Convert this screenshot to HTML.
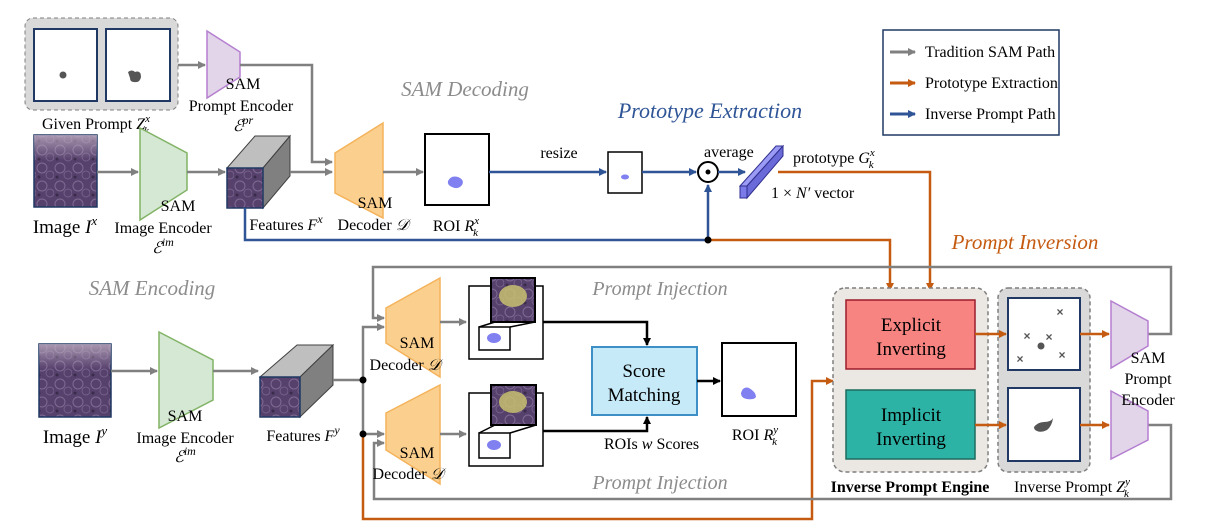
<!DOCTYPE html>
<html><head><meta charset="utf-8"><style>
html,body{margin:0;padding:0;background:#fff;}
svg{display:block;font-family:"Liberation Serif",serif;}
</style></head><body>
<svg width="1222" height="531" viewBox="0 0 1222 531" xmlns="http://www.w3.org/2000/svg">
<defs>
<marker id="ag" markerWidth="8" markerHeight="8" refX="7" refY="4" orient="auto" markerUnits="userSpaceOnUse"><path d="M0,0 L8,4 L0,8z" fill="#808080"/></marker>
<marker id="ab" markerWidth="8" markerHeight="8" refX="7" refY="4" orient="auto" markerUnits="userSpaceOnUse"><path d="M0,0 L8,4 L0,8z" fill="#2f5597"/></marker>
<marker id="ao" markerWidth="8" markerHeight="8" refX="7" refY="4" orient="auto" markerUnits="userSpaceOnUse"><path d="M0,0 L8,4 L0,8z" fill="#c55a11"/></marker>
<marker id="ak" markerWidth="8" markerHeight="8" refX="7" refY="4" orient="auto" markerUnits="userSpaceOnUse"><path d="M0,0 L8,4 L0,8z" fill="#000"/></marker>
<pattern id="tis" width="18" height="18" patternUnits="userSpaceOnUse">
<rect width="18" height="18" fill="#56406c"/>
<circle cx="6" cy="6" r="5" fill="none" stroke="#7e6a92" stroke-width="1"/>
<circle cx="14" cy="13" r="4" fill="none" stroke="#746089" stroke-width="1"/>
<circle cx="3" cy="15" r="1.5" fill="#3a2b4a"/>
</pattern>
<linearGradient id="topfade" x1="0" y1="0" x2="0" y2="1"><stop offset="0" stop-color="#c4b4c8" stop-opacity="0.75"/><stop offset="0.35" stop-color="#c4b4c8" stop-opacity="0"/></linearGradient>
</defs>
<g font-size="16" fill="#000">

<rect x="25" y="18" width="153" height="92" rx="8" fill="#d9d9d9" stroke="#7f7f7f" stroke-dasharray="4,3"/>
<rect x="34" y="29" width="63" height="72" fill="#fff" stroke="#203864" stroke-width="2"/>
<rect x="106" y="29" width="64" height="72" fill="#fff" stroke="#203864" stroke-width="2"/>
<circle cx="63" cy="75" r="3.5" fill="#555"/>
<path d="M128,72 q4,-3 7,0 q6,-2 6,5 q-1,6 -7,5 q-4,0 -4,-4 q-1,-3 -2,-6z" fill="#555"/>
<text x="96" y="129" text-anchor="middle">Given Prompt <tspan font-style="italic">Z</tspan><tspan font-size="11" dy="-7" font-style="italic">x</tspan><tspan font-size="11" dx="-6" dy="12" font-style="italic">k</tspan></text>
<line x1="178" y1="65" x2="205" y2="65" stroke="#808080" stroke-width="2.5" marker-end="url(#ag)"/>
<path d="M207,31 L240,52 L240,77 L207,98z" fill="#e2d5ea" stroke="#b57fd0" stroke-width="1.5"/>
<text x="243" y="89" text-anchor="middle">SAM</text>
<text x="241" y="111" text-anchor="middle">Prompt Encoder</text>
<text x="243" y="131" text-anchor="middle" font-style="italic">ℰ<tspan font-size="12" dy="-7">pr</tspan></text>
<polyline points="240,65 312,65 312,162 332,162" fill="none" stroke="#808080" stroke-width="2.5" marker-end="url(#ag)"/>

<text x="465" y="96" text-anchor="middle" font-size="21" font-style="italic" fill="#8c8c8c">SAM Decoding</text>
<text x="710" y="118" text-anchor="middle" font-size="22" font-style="italic" fill="#2f5597">Prototype Extraction</text>

<rect x="34" y="135" width="63" height="72" fill="url(#tis)" stroke="#203864" stroke-width="1.5"/>
<rect x="34" y="135" width="63" height="72" fill="url(#topfade)"/>
<text x="65" y="233" text-anchor="middle" font-size="19">Image <tspan font-style="italic">I</tspan><tspan font-size="13" dy="-8" font-style="italic">x</tspan></text>
<line x1="97" y1="172" x2="138" y2="172" stroke="#808080" stroke-width="2.5" marker-end="url(#ag)"/>
<path d="M140,128 L187,153 L187,190 L140,220z" fill="#d5e8d4" stroke="#82b366" stroke-width="1.5"/>
<text x="178" y="211" text-anchor="middle">SAM</text>
<text x="163" y="233" text-anchor="middle">Image Encoder</text>
<text x="163" y="253" text-anchor="middle" font-style="italic">ℰ<tspan font-size="12" dy="-7">im</tspan></text>
<line x1="187" y1="172" x2="225" y2="172" stroke="#808080" stroke-width="2.5" marker-end="url(#ag)"/>
<path d="M227,168 L255,136 L290,136 L263,168z" fill="#bfbfbf" stroke="#404040"/>
<path d="M263,168 L290,136 L290,176 L263,208z" fill="#808080" stroke="#404040"/>
<rect x="227" y="168" width="36" height="40" fill="url(#tis)" stroke="#203864" stroke-width="1.5"/>
<text x="286" y="230" text-anchor="middle">Features <tspan font-style="italic">F</tspan><tspan font-size="12" dy="-7" font-style="italic">x</tspan></text>
<line x1="290" y1="172" x2="332" y2="172" stroke="#808080" stroke-width="2.5" marker-end="url(#ag)"/>
<path d="M335,153 L383,123 L383,218 L335,193z" fill="#fbd08f" stroke="#f4b35b" stroke-width="1.5"/>
<text x="375" y="208" text-anchor="middle">SAM</text>
<text x="373" y="230" text-anchor="middle">Decoder <tspan font-style="italic">𝒟</tspan></text>
<line x1="383" y1="172" x2="423" y2="172" stroke="#808080" stroke-width="2.5" marker-end="url(#ag)"/>
<rect x="425" y="134" width="64" height="71" fill="#fff" stroke="#000" stroke-width="2"/>
<path d="M448,181 q3,-6 10,-4 q7,3 4,8 q-4,5 -10,2 q-5,-2 -4,-6z" fill="#8080f0"/>
<text x="456" y="231" text-anchor="middle">ROI <tspan font-style="italic">R</tspan><tspan font-size="11" dy="-7" font-style="italic">x</tspan><tspan font-size="11" dx="-6" dy="12" font-style="italic">k</tspan></text>
<line x1="489" y1="172" x2="606" y2="172" stroke="#2f5597" stroke-width="2.5" marker-end="url(#ab)"/>
<text x="559" y="158" text-anchor="middle">resize</text>
<rect x="608" y="152" width="34" height="41" fill="#fff" stroke="#000" stroke-width="1.5"/>
<ellipse cx="625" cy="177" rx="4" ry="2.5" fill="#8080f0"/>
<line x1="642" y1="172" x2="696" y2="172" stroke="#2f5597" stroke-width="2.5" marker-end="url(#ab)"/>
<circle cx="708" cy="172" r="10" fill="#fff" stroke="#000" stroke-width="2"/>
<circle cx="708" cy="172" r="2.5" fill="#000"/>
<text x="704" y="157" fill="#000">average</text>
<line x1="718" y1="172" x2="745" y2="172" stroke="#2f5597" stroke-width="2.5" marker-end="url(#ab)"/>
<path d="M740,186 L776,146 L783,146 L747,186z" fill="#9b9bf5" stroke="#2f2f8f"/>
<path d="M747,186 L783,146 L783,156 L747,198z" fill="#6a6ad8" stroke="#2f2f8f"/>
<rect x="740" y="186" width="7" height="12" fill="#7a7ae8" stroke="#2f2f8f"/>
<text x="793" y="163">prototype <tspan font-style="italic">G</tspan><tspan font-size="11" dy="-7" font-style="italic">x</tspan><tspan font-size="11" dx="-6" dy="12" font-style="italic">k</tspan></text>
<text x="771" y="198">1 × <tspan font-style="italic">N′</tspan> vector</text>
<polyline points="778,172 930,172 930,290" fill="none" stroke="#c55a11" stroke-width="2.5" marker-end="url(#ao)"/>
<polyline points="245,208 245,240 708,240 708,185" fill="none" stroke="#2f5597" stroke-width="2.5" marker-end="url(#ab)"/>
<polyline points="708,240 890,240 890,290" fill="none" stroke="#c55a11" stroke-width="2.5" marker-end="url(#ao)"/>
<circle cx="708" cy="240" r="3.5" fill="#000"/>
<text x="1025" y="249" text-anchor="middle" font-size="21" font-style="italic" fill="#c55a11">Prompt Inversion</text>

<rect x="883" y="30" width="176" height="105" fill="#fff" stroke="#203864" stroke-width="1.5"/>
<line x1="890" y1="52" x2="915" y2="52" stroke="#808080" stroke-width="3" marker-end="url(#ag)"/>
<text x="925" y="57">Tradition SAM Path</text>
<line x1="890" y1="83" x2="915" y2="83" stroke="#c55a11" stroke-width="3" marker-end="url(#ao)"/>
<text x="925" y="88">Prototype Extraction</text>
<line x1="890" y1="114" x2="915" y2="114" stroke="#2f5597" stroke-width="3" marker-end="url(#ab)"/>
<text x="925" y="119">Inverse Prompt Path</text>

<text x="152" y="295" text-anchor="middle" font-size="21" font-style="italic" fill="#8c8c8c">SAM Encoding</text>
<rect x="39" y="344" width="72" height="73" fill="url(#tis)" stroke="#203864" stroke-width="1.5"/>
<rect x="39" y="344" width="72" height="73" fill="url(#topfade)"/>
<text x="75" y="443" text-anchor="middle" font-size="19">Image <tspan font-style="italic">I</tspan><tspan font-size="13" dy="-8" font-style="italic">y</tspan></text>
<line x1="111" y1="371" x2="157" y2="371" stroke="#808080" stroke-width="2.5" marker-end="url(#ag)"/>
<path d="M159,332 L213,360 L213,400 L159,428z" fill="#d5e8d4" stroke="#82b366" stroke-width="1.5"/>
<text x="185" y="421" text-anchor="middle">SAM</text>
<text x="185" y="443" text-anchor="middle">Image Encoder</text>
<text x="185" y="462" text-anchor="middle" font-style="italic">ℰ<tspan font-size="12" dy="-7">im</tspan></text>
<line x1="213" y1="371" x2="258" y2="371" stroke="#808080" stroke-width="2.5" marker-end="url(#ag)"/>
<path d="M260,377 L297,345 L333,345 L300,377z" fill="#bfbfbf" stroke="#404040"/>
<path d="M300,377 L333,345 L333,385 L300,417z" fill="#808080" stroke="#404040"/>
<rect x="260" y="377" width="40" height="40" fill="url(#tis)" stroke="#203864" stroke-width="1.5"/>
<text x="303" y="441" text-anchor="middle">Features <tspan font-style="italic">F</tspan><tspan font-size="12" dy="-7" font-style="italic">y</tspan></text>
<line x1="333" y1="380" x2="363" y2="380" stroke="#808080" stroke-width="2.5"/>
<polyline points="363,434 363,327 384,327" fill="none" stroke="#808080" stroke-width="2.5" marker-end="url(#ag)"/>
<line x1="363" y1="434" x2="384" y2="434" stroke="#808080" stroke-width="2.5" marker-end="url(#ag)"/>
<polyline points="363,434 363,519 812,519 812,381 833,381" fill="none" stroke="#c55a11" stroke-width="2.5" marker-end="url(#ao)"/>
<circle cx="363" cy="380" r="3.5" fill="#000"/>
<circle cx="363" cy="434" r="3.5" fill="#000"/>
<polyline points="1148,334 1171,334 1171,267 373,267 373,318 384,318" fill="none" stroke="#808080" stroke-width="2.5" marker-end="url(#ag)"/>
<polyline points="1148,425 1171,425 1171,499 374,499 374,443 384,443" fill="none" stroke="#808080" stroke-width="2.5" marker-end="url(#ag)"/>
<path d="M386,308 L440,278 L440,377 L386,343z" fill="#fbd08f" stroke="#f4b35b" stroke-width="1.5"/>
<text x="417" y="348" text-anchor="middle">SAM</text>
<text x="405" y="370" text-anchor="middle">Decoder <tspan font-style="italic">𝒟</tspan></text>
<path d="M386,413 L440,385 L440,484 L386,450z" fill="#fbd08f" stroke="#f4b35b" stroke-width="1.5"/>
<text x="417" y="458" text-anchor="middle">SAM</text>
<text x="408" y="479" text-anchor="middle">Decoder <tspan font-style="italic">𝒟</tspan></text>
<line x1="440" y1="322" x2="466" y2="322" stroke="#808080" stroke-width="2.5" marker-end="url(#ag)"/>
<line x1="440" y1="434" x2="466" y2="434" stroke="#808080" stroke-width="2.5" marker-end="url(#ag)"/>
<g stroke="#000" stroke-width="1.5">
<rect x="469" y="286" width="74" height="73" fill="#fff"/>
<rect x="491" y="278" width="44" height="44" fill="url(#tis)" stroke-width="2"/>
<ellipse cx="513" cy="296" rx="14" ry="11" fill="#c8c070" opacity="0.85" stroke="none"/>
<path d="M495,322 L479,327 M535,322 L510,327" />
<rect x="479" y="327" width="31" height="23" fill="#fff"/>
<rect x="469" y="393" width="74" height="73" fill="#fff"/>
<rect x="491" y="385" width="45" height="40" fill="url(#tis)" stroke-width="2"/>
<ellipse cx="513" cy="402" rx="14" ry="11" fill="#c8c070" opacity="0.85" stroke="none"/>
<path d="M495,425 L479,433 M536,425 L510,433" />
<rect x="479" y="433" width="31" height="25" fill="#fff"/>
</g>
<ellipse cx="494" cy="338" rx="7" ry="5" fill="#8080f0"/>
<ellipse cx="494" cy="445" rx="7" ry="5" fill="#8080f0"/>
<text x="660" y="295" text-anchor="middle" font-size="20" font-style="italic" fill="#8c8c8c">Prompt Injection</text>
<text x="660" y="489" text-anchor="middle" font-size="20" font-style="italic" fill="#8c8c8c">Prompt Injection</text>
<polyline points="543,322 647,322 647,345" fill="none" stroke="#000" stroke-width="2.5" marker-end="url(#ak)"/>
<polyline points="543,431 647,431 647,417" fill="none" stroke="#000" stroke-width="2.5" marker-end="url(#ak)"/>
<rect x="592" y="347" width="105" height="68" fill="#c6eaf8" stroke="#3d8fc6" stroke-width="2"/>
<text x="644" y="377" text-anchor="middle" font-size="19">Score</text>
<text x="644" y="401" text-anchor="middle" font-size="19">Matching</text>
<text x="604" y="449">ROIs <tspan font-style="italic">w</tspan> Scores</text>
<line x1="697" y1="381" x2="720" y2="381" stroke="#000" stroke-width="2.5" marker-end="url(#ak)"/>
<rect x="722" y="343" width="74" height="73" fill="#fff" stroke="#000" stroke-width="2"/>
<path d="M741,393 q2,-7 8,-5 q7,4 7,9 q-2,3 -9,2 q-6,-1 -6,-6z" fill="#8080f0"/>
<text x="755" y="440" text-anchor="middle">ROI <tspan font-style="italic">R</tspan><tspan font-size="11" dy="-7" font-style="italic">y</tspan><tspan font-size="11" dx="-6" dy="12" font-style="italic">k</tspan></text>

<rect x="833" y="288" width="155" height="184" rx="12" fill="#ebe8e3" stroke="#7f7f7f" stroke-dasharray="4,3" stroke-width="1.5"/>
<rect x="846" y="300" width="129" height="69" fill="#f88482" stroke="#9b1c2b" stroke-width="1.5"/>
<text x="911" y="331" text-anchor="middle" font-size="19">Explicit</text>
<text x="911" y="355" text-anchor="middle" font-size="19">Inverting</text>
<rect x="846" y="390" width="129" height="69" fill="#2db3a5" stroke="#1e6b5e" stroke-width="1.5"/>
<text x="911" y="421" text-anchor="middle" font-size="19">Implicit</text>
<text x="911" y="445" text-anchor="middle" font-size="19">Inverting</text>
<text x="910" y="492" text-anchor="middle" font-weight="bold">Inverse Prompt Engine</text>
<rect x="998" y="288" width="92" height="184" rx="10" fill="#d9d9d9" stroke="#7f7f7f" stroke-dasharray="4,3" stroke-width="1.5"/>
<rect x="1008" y="298" width="72" height="72" fill="#fff" stroke="#203864" stroke-width="2"/>
<rect x="1008" y="388" width="72" height="73" fill="#fff" stroke="#203864" stroke-width="2"/>
<g fill="#555" font-family="Liberation Sans,sans-serif" font-size="12" font-weight="bold" text-anchor="middle">
<text x="1060" y="316">×</text><text x="1027" y="340">×</text><text x="1049" y="341">×</text><text x="1020" y="363">×</text><text x="1062" y="359">×</text>
</g>
<circle cx="1041" cy="346" r="3.5" fill="#555"/>
<path d="M1034,427 q4,-5 10,-5 q7,0 9,-4 q-1,8 -6,12 q-6,3 -10,1 q-3,-1 -3,-4z" fill="#555"/>
<text x="1072" y="492" text-anchor="middle">Inverse Prompt <tspan font-style="italic">Z</tspan><tspan font-size="11" dy="-7" font-style="italic">y</tspan><tspan font-size="11" dx="-6" dy="12" font-style="italic">k</tspan></text>
<line x1="975" y1="334" x2="1006" y2="334" stroke="#c55a11" stroke-width="2.5" marker-end="url(#ao)"/>
<line x1="975" y1="425" x2="1006" y2="425" stroke="#c55a11" stroke-width="2.5" marker-end="url(#ao)"/>
<line x1="1080" y1="334" x2="1109" y2="334" stroke="#c55a11" stroke-width="2.5" marker-end="url(#ao)"/>
<line x1="1080" y1="425" x2="1109" y2="425" stroke="#c55a11" stroke-width="2.5" marker-end="url(#ao)"/>
<path d="M1111,301 L1148,321 L1148,346 L1111,368z" fill="#e2d5ea" stroke="#b57fd0" stroke-width="1.5"/>
<path d="M1111,391 L1148,411 L1148,440 L1111,459z" fill="#e2d5ea" stroke="#b57fd0" stroke-width="1.5"/>
<text x="1148" y="363" text-anchor="middle">SAM</text>
<text x="1148" y="384" text-anchor="middle">Prompt</text>
<text x="1148" y="405" text-anchor="middle">Encoder</text>
</g>
</svg>
</body></html>
